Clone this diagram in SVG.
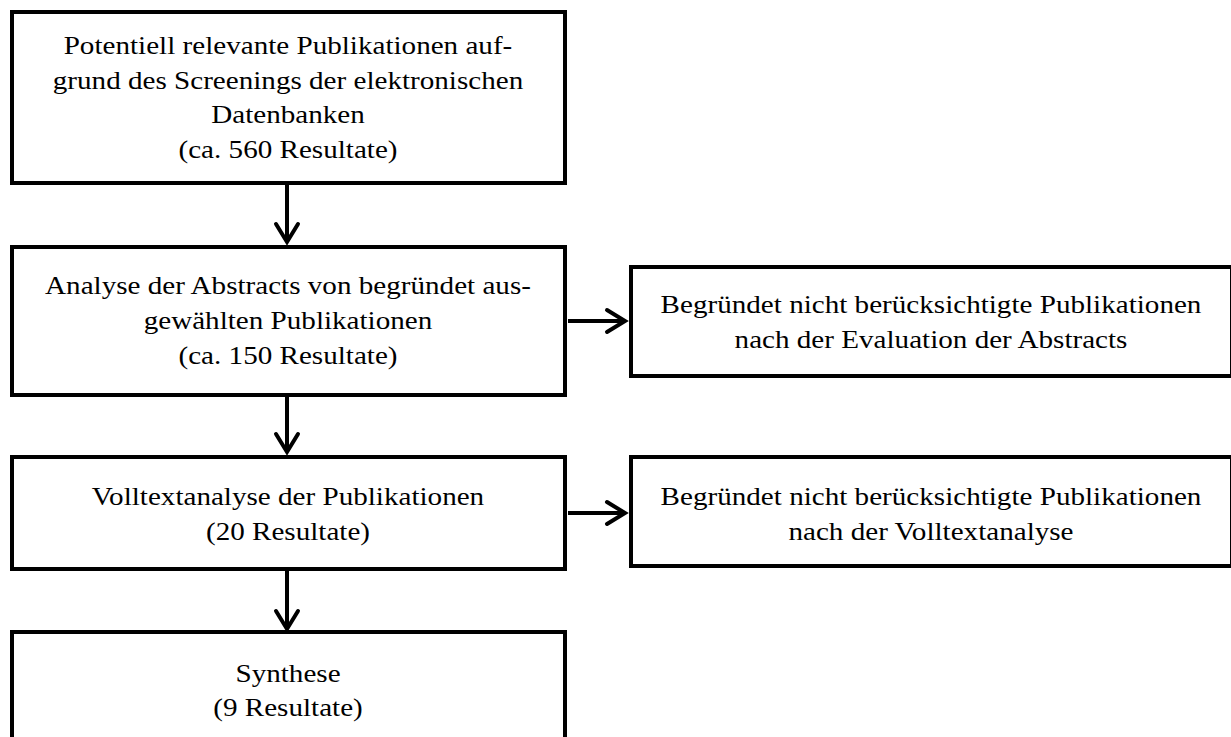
<svg xmlns="http://www.w3.org/2000/svg" width="1231" height="737" viewBox="0 0 1231 737">
<style>
.box{fill:#fff;stroke:#000;stroke-width:4}
.t{font-family:"Liberation Serif","Times New Roman",serif;font-size:26px;fill:#000;text-anchor:middle}
.c{fill:none;stroke:#000;stroke-width:4}
</style>
<defs>
<marker id="ah" viewBox="0 0 12 14" refX="10" refY="7" markerWidth="12" markerHeight="14" markerUnits="userSpaceOnUse" orient="auto" overflow="visible">
<path d="M-8,-4 L10,7 L-8,18" fill="none" stroke="#000" stroke-width="4" stroke-linecap="round" stroke-linejoin="miter"/>
</marker>
</defs>
<rect width="1231" height="737" fill="#fff"/>
<g id="n1">
<rect class="box" x="12" y="12" width="553" height="171"/>
<g transform="translate(288,0) scale(1.12,1)">
<text class="t" x="0" y="54">Potentiell relevante Publikationen auf-</text>
<text class="t" x="0" y="89">grund des Screenings der elektronischen</text>
<text class="t" x="0" y="123">Datenbanken</text>
<text class="t" x="0" y="158">(ca. 560 Resultate)</text>
</g>
</g>
<g id="n2">
<rect class="box" x="12" y="247" width="553" height="148"/>
<g transform="translate(288,0) scale(1.12,1)">
<text class="t" x="0" y="294">Analyse der Abstracts von begründet aus-</text>
<text class="t" x="0" y="329">gewählten Publikationen</text>
<text class="t" x="0" y="364">(ca. 150 Resultate)</text>
</g>
</g>
<g id="n3">
<rect class="box" x="631" y="267" width="601" height="109"/>
<g transform="translate(931,0) scale(1.12,1)">
<text class="t" x="0" y="313">Begründet nicht berücksichtigte Publikationen</text>
<text class="t" x="0" y="348">nach der Evaluation der Abstracts</text>
</g>
</g>
<g id="n4">
<rect class="box" x="12" y="457" width="553" height="112"/>
<g transform="translate(288,0) scale(1.12,1)">
<text class="t" x="0" y="505">Volltextanalyse der Publikationen</text>
<text class="t" x="0" y="540">(20 Resultate)</text>
</g>
</g>
<g id="n5">
<rect class="box" x="631" y="457" width="601" height="109"/>
<g transform="translate(931,0) scale(1.12,1)">
<text class="t" x="0" y="505">Begründet nicht berücksichtigte Publikationen</text>
<text class="t" x="0" y="540">nach der Volltextanalyse</text>
</g>
</g>
<g id="n6">
<rect class="box" x="12" y="632" width="553" height="130"/>
<g transform="translate(288,0) scale(1.12,1)">
<text class="t" x="0" y="682">Synthese</text>
<text class="t" x="0" y="716">(9 Resultate)</text>
</g>
</g>
<g id="connectors">
<path class="c" d="M287,185 V242" marker-end="url(#ah)"/>
<path class="c" d="M287,397 V452" marker-end="url(#ah)"/>
<path class="c" d="M287,571 V629" marker-end="url(#ah)"/>
<path class="c" d="M568,321 H625" marker-end="url(#ah)"/>
<path class="c" d="M568,513 H625" marker-end="url(#ah)"/>
</g>
</svg>
